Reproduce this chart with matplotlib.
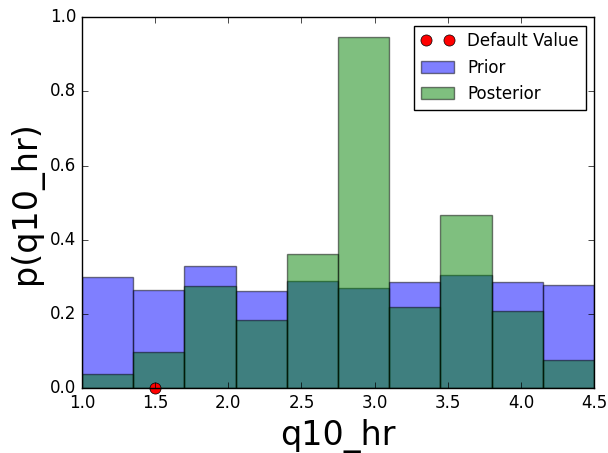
import numpy as np
import matplotlib.pyplot as plt

plt.style.use('classic')

edges = [1.0, 1.35, 1.7, 2.05, 2.4, 2.75, 3.1, 3.45, 3.8, 4.15, 4.5]
prior = [0.30, 0.265, 0.33, 0.262, 0.29, 0.27, 0.285, 0.305, 0.285, 0.278]
posterior = [0.038, 0.098, 0.275, 0.183, 0.362, 0.948, 0.22, 0.468, 0.207, 0.077]
default_value = 1.5

fig = plt.figure(figsize=(6.08, 4.53), dpi=100)
ax = fig.add_axes([0.135, 0.143, 0.842, 0.819])
left = np.array(edges[:-1])
width = np.diff(edges)
ax.bar(left, prior, width=width, align='edge', color='blue', alpha=0.5, label='Prior')
ax.bar(left, posterior, width=width, align='edge', color='green', alpha=0.5, label='Posterior')
ax.plot([default_value], [0], 'o', color='red', markersize=8, clip_on=False, label='Default Value')
ax.set_xlim(1.0, 4.5)
ax.set_ylim(0, 1.0)
ax.set_xlabel('q10_hr', fontsize=24)
ax.set_ylabel('p(q10_hr)', fontsize=24)
ax.legend(loc='upper right', fontsize=12, numpoints=2)
fig.savefig('out.png', dpi=100)
